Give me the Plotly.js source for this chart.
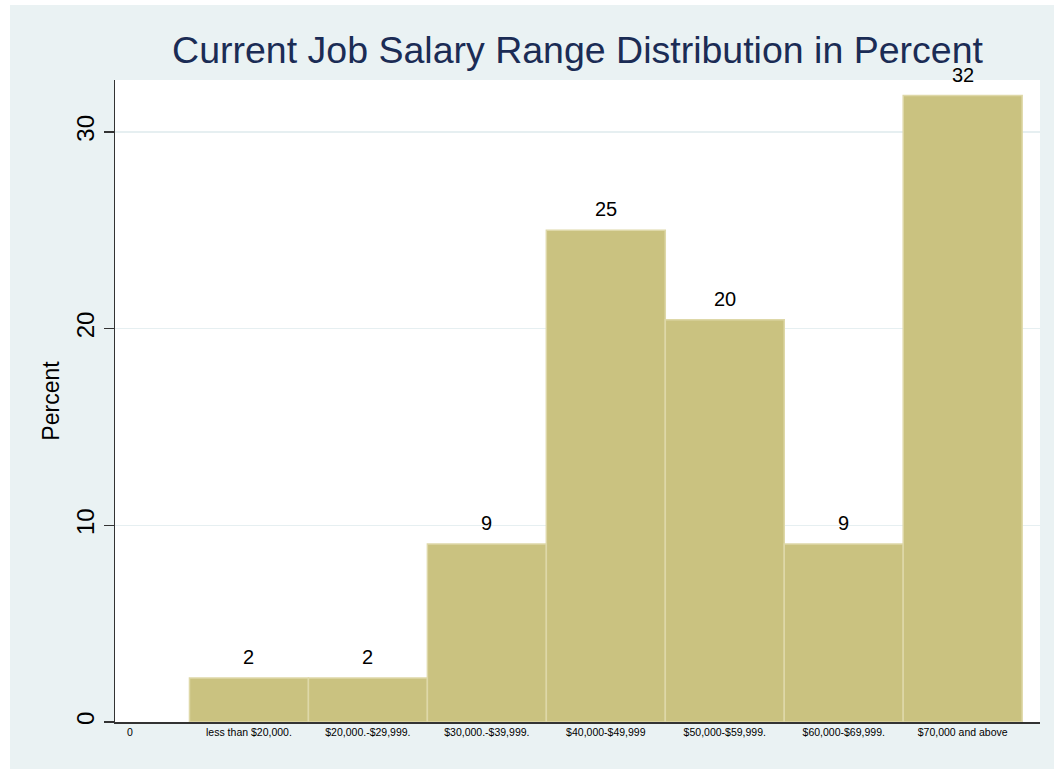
<!DOCTYPE html>
<html>
<head>
<meta charset="utf-8">
<script src="https://cdn.plot.ly/plotly-3.0.1.min.js"></script>
<style>html,body{margin:0;padding:0;background:#fff;}#chart{width:1054px;height:769px;}</style>
</head>
<body>
<div id="chart"></div>
<script>
var categories = ["less than $20,000.", "$20,000.-$29,999.", "$30,000.-$39,999.", "$40,000-$49,999", "$50,000-$59,999.", "$60,000-$69,999.", "$70,000 and above"];
var percents = [2.24, 2.24, 9.05, 25.0, 20.45, 9.05, 31.85];
var tickLabels = ["0"].concat(categories);
var tickPositions = tickLabels.map(function(_, i){ return i; });
var barPositions = categories.map(function(_, i){ return i + 1; });

var trace = {
  type: 'bar',
  x: barPositions,
  y: percents,
  width: 1,
  marker: {color: '#CAC280', line: {color: '#DED8A8', width: 1.5}},
  hoverinfo: 'x+y'
};

var annotations = barPositions.map(function(x, i){
  return {x: x, y: percents[i], xref: 'x', yref: 'y', text: String(Math.round(percents[i])),
          showarrow: false, yanchor: 'bottom', yshift: 8,
          font: {family: 'Liberation Sans, Arial, sans-serif', size: 20, color: '#000'}};
});

var W = 1054, H = 769, mL = 115, mR = 14, mT = 80, mB = 47;
var pw = W - mL - mR, ph = H - mT - mB;
function px(x){ return (x - mL) / pw; }
function py(y){ return (H - mB - y) / ph; }

var layout = {
  width: W, height: H,
  margin: {l: mL, r: mR, t: mT, b: mB, pad: 0},
  paper_bgcolor: '#ffffff',
  plot_bgcolor: 'rgba(0,0,0,0)',
  font: {family: 'Liberation Sans, Arial, sans-serif', color: '#000'},
  title: {text: 'Current Job Salary Range Distribution in Percent',
          font: {family: 'Liberation Sans, Arial, sans-serif', size: 37.5, color: '#1B2C55'},
          x: 0.5, xref: 'paper', xanchor: 'center', y: 1 - 50/H, yanchor: 'middle'},
  showlegend: false,
  bargap: 0,
  xaxis: {
    range: [-0.126, 7.65],
    tickmode: 'array', tickvals: tickPositions, ticktext: tickLabels,
    tickfont: {size: 10.5, color: '#000'},
    ticks: '', showgrid: false, zeroline: false,
    showline: true, linecolor: '#333333', linewidth: 1.5,
    fixedrange: true
  },
  yaxis: {
    range: [0, 32.64],
    tickvals: [0, 10, 20, 30],
    tickangle: -90,
    tickfont: {size: 24, color: '#000'},
    ticks: 'outside', ticklen: 10, tickwidth: 1.2, tickcolor: '#333333',
    showgrid: true, gridcolor: '#E6EFF1', gridwidth: 1.5,
    zeroline: false,
    showline: true, linecolor: '#333333', linewidth: 1.5,
    title: {text: 'Percent', font: {size: 23, color: '#000'}, standoff: 6},
    fixedrange: true
  },
  shapes: [
    {type: 'rect', xref: 'paper', yref: 'paper', x0: px(10), x1: px(W), y0: py(H), y1: py(5),
     fillcolor: '#EAF2F3', line: {width: 0}, layer: 'below'},
    {type: 'rect', xref: 'paper', yref: 'paper', x0: 0, x1: 1, y0: 0, y1: 1,
     fillcolor: '#FFFFFF', line: {width: 0}, layer: 'below'}
  ],
  annotations: annotations
};

Plotly.newPlot('chart', [trace], layout, {displayModeBar: false, staticPlot: true});
</script>
</body>
</html>
